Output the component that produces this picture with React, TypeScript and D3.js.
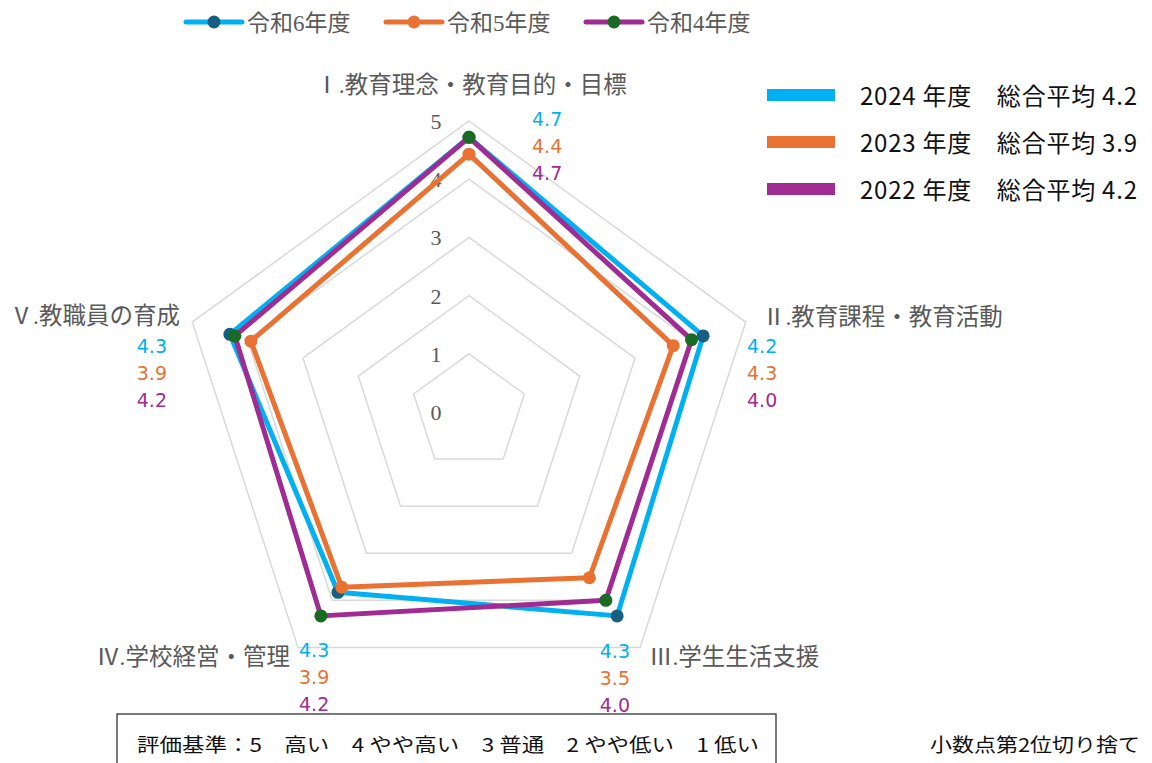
import React from "react";
import * as d3 from "d3";

const categories = ["Ⅰ.教育理念・教育目的・目標", "Ⅱ.教育課程・教育活動", "Ⅲ.学生生活支援", "Ⅳ.学校経営・管理", "Ⅴ.教職員の育成"];
const values2024 = [4.72, 4.23, 4.33, 3.83, 4.32];
const values2023 = [4.43, 3.69, 3.52, 3.72, 3.94];
const values2022 = [4.72, 4.02, 4.0, 4.33, 4.23];
const labels2024 = ["4.7", "4.2", "4.3", "4.3", "4.3"];
const labels2023 = ["4.4", "4.3", "3.5", "3.9", "3.9"];
const labels2022 = ["4.7", "4.0", "4.0", "4.2", "4.2"];
const legendNames = ["令和6年度", "令和5年度", "令和4年度"];
const averageTexts = ["2024 年度　総合平均 4.2", "2023 年度　総合平均 3.9", "2022 年度　総合平均 4.2"];
const ringLevels = [1, 2, 3, 4, 5];
const tickLevels = [0, 1, 2, 3, 4, 5];
const criteriaText = "評価基準：5　高い　4 やや高い　3 普通　2 やや低い　1 低い";
const noteText = "小数点第2位切り捨て";

const lineColors = ["#00B0F0", "#E97132", "#A02B93"];
const markerColors = ["#156082", "#E97132", "#196B24"];
const allValues = [values2024, values2023, values2022];
const allLabels = [labels2024, labels2023, labels2022];

const cx = 469;
const cy = 412;
const r = d3.scaleLinear().domain([0, 5]).range([0, 291]);
const angle = (i: number) => (i * 2 * Math.PI) / categories.length;
const pt = (i: number, v: number): [number, number] => [cx + r(v) * Math.sin(angle(i)), cy - r(v) * Math.cos(angle(i))];

const serif = "'Liberation Serif', 'Noto Sans CJK JP', serif";
const cjk = "'Noto Sans CJK JP', sans-serif";
const numFont = "'DejaVu Sans', 'Noto Sans CJK JP', sans-serif";

const catPos = [
  { x: 471, y: 93, anchor: "middle" },
  { x: 762, y: 325, anchor: "start" },
  { x: 649, y: 665, anchor: "start" },
  { x: 290, y: 665, anchor: "end" },
  { x: 180, y: 324, anchor: "end" },
];
const valPos = [
  { x: 532, y: 126, anchor: "start" },
  { x: 747, y: 353, anchor: "start" },
  { x: 630, y: 658, anchor: "end" },
  { x: 299, y: 657, anchor: "start" },
  { x: 167, y: 353, anchor: "end" },
];
const legendX = [186, 386, 586];

export default function App() {
  const line = d3.line<[number, number]>().curve(d3.curveLinearClosed);
  return (
    <svg width={1152} height={763} style={{ position: "absolute", left: 0, top: 0, background: "#fff" }}>
      {ringLevels.map((lv) => (
        <path key={lv} d={line(categories.map((_, i) => pt(i, lv))) || ""} fill="none" stroke="#d9d9d9" strokeWidth={1.5} />
      ))}
      {tickLevels.map((lv) => (
        <text key={lv} x={436} y={cy - r(lv) + 8} textAnchor="middle" fontFamily={serif} fontSize={22} fill="#595959">
          {lv}
        </text>
      ))}
      {allValues.map((vals, s) => (
        <g key={s}>
          <path d={line(vals.map((v, i) => pt(i, v))) || ""} fill="none" stroke={lineColors[s]} strokeWidth={5} strokeLinejoin="round" />
          {vals.map((v, i) => {
            const [x, y] = pt(i, v);
            return <circle key={i} cx={x} cy={y} r={6.5} fill={markerColors[s]} />;
          })}
        </g>
      ))}
      {categories.map((c, i) => (
        <text key={c} x={catPos[i].x} y={catPos[i].y} textAnchor={catPos[i].anchor as any} fontFamily={serif} fontSize={23.5} fill="#595959">
          {c}
        </text>
      ))}
      {categories.map((c, i) => (
        <g key={"v" + i}>
          {allLabels.map((labs, s) => (
            <text key={s} x={valPos[i].x} y={valPos[i].y + s * 27} textAnchor={valPos[i].anchor as any} fontFamily={numFont} fontSize={19} fill={lineColors[s]}>
              {labs[i]}
            </text>
          ))}
        </g>
      ))}
      {legendNames.map((n, s) => (
        <g key={n}>
          <line x1={legendX[s]} x2={legendX[s] + 56} y1={22} y2={22} stroke={lineColors[s]} strokeWidth={5} strokeLinecap="round" />
          <circle cx={legendX[s] + 28} cy={22} r={6.5} fill={markerColors[s]} />
          <text x={legendX[s] + 61} y={31} fontFamily={serif} fontSize={23} fill="#595959">
            {n}
          </text>
        </g>
      ))}
      {averageTexts.map((t, s) => (
        <g key={t}>
          <rect x={767} y={89 + s * 47} width={68} height={12} fill={lineColors[s]} />
          <text x={860} y={105 + s * 47} fontFamily={cjk} fontSize={24} fill="#111" textLength={277} lengthAdjust="spacing">
            {t}
          </text>
        </g>
      ))}
      <rect x={117} y={714} width={659} height={60} fill="none" stroke="#222" strokeWidth={1.2} />
      <text x={137} y={752} fontFamily={cjk} fontSize={19} fill="#111" textLength={622} lengthAdjust="spacingAndGlyphs">
        {criteriaText}
      </text>
      <text x={930} y={752} fontFamily={cjk} fontSize={19} fill="#111" textLength={210} lengthAdjust="spacingAndGlyphs">
        {noteText}
      </text>
    </svg>
  );
}
